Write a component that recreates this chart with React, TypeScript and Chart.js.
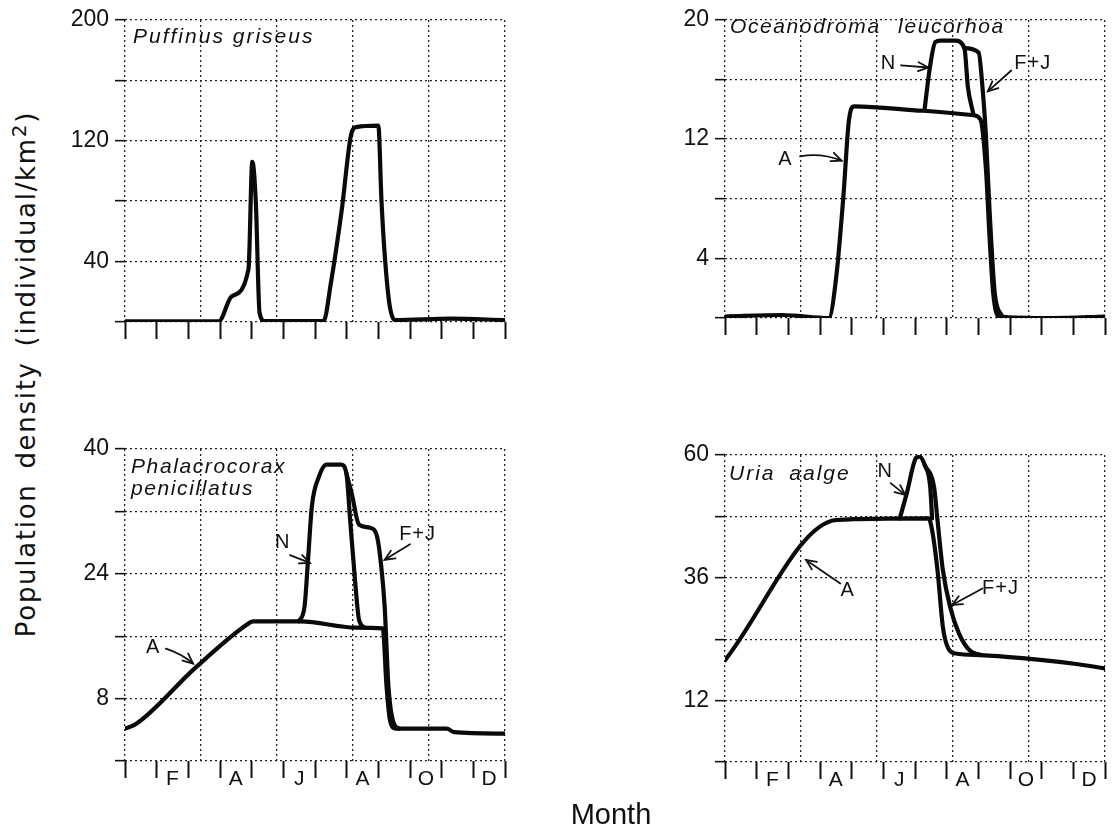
import React, { useEffect, useRef } from 'react';
import { Chart, registerables } from 'chart.js';

Chart.register(...registerables);

// ---------- shared axis data ----------
const monthLabels = ['F', 'A', 'J', 'A', 'O', 'D'];
const monthLabelAt = [1.5, 3.5, 5.5, 7.5, 9.5, 11.5];
const monthBoundaries = [0, 1, 2, 3, 4, 5, 6, 7, 8, 9, 10, 11, 12];
const paperGrid = [0, 2.4, 4.8, 7.2, 9.6, 12];

// ---------- Puffinus griseus ----------
const pgMonths = [0, 2.96, 3.37, 3.9, 4.02, 4.13, 4.25, 4.42, 6.27, 6.5, 6.85, 7.14, 7.31, 8.0, 8.1, 8.2, 8.35, 8.52, 10.3, 12];
const pgDensity = [0.5, 0.5, 17, 35, 106, 80, 6, 0.6, 0.6, 25.6, 75, 124, 129, 130, 80, 45, 12, 1.3, 2.2, 1.3];
const pgTicks = [0, 40, 80, 120, 160, 200];
const pgTickLabels = [40, 120, 200];

// ---------- Oceanodroma leucorhoa ----------
const olAdultMonths = [0, 1.8, 3.28, 3.51, 3.74, 3.91, 4.08, 6.25, 7.84, 8.07, 8.24, 8.35, 8.47, 8.64, 10.35, 12];
const olAdultDensity = [0.1, 0.2, 0, 2.7, 8.2, 13.2, 14.2, 13.9, 13.6, 13.3, 10.0, 5.6, 1.65, 0.1, 0, 0.1];
const olNestMonths = [6.3, 6.47, 6.64, 6.81, 7.27, 7.56, 7.67, 7.84];
const olNestDensity = [13.95, 16.8, 18.5, 18.6, 18.6, 18.1, 15.5, 13.7];
const olFledgeMonths = [7.56, 8.01, 8.13, 8.24, 8.35, 8.52, 8.75];
const olFledgeDensity = [18.1, 17.8, 15.5, 12.2, 7.4, 1.65, 0.1];
const olTicks = [0, 4, 8, 12, 16, 20];
const olTickLabels = [4, 12, 20];

// ---------- Phalacrocorax penicillatus ----------
const ppAdultMonths = [0, 0.37, 2.21, 3.82, 4.05, 5.55, 7.28, 8.14, 8.26, 8.37, 8.55, 10.16, 10.39, 12];
const ppAdultDensity = [4.15, 4.8, 11.9, 17.4, 17.9, 17.9, 17.1, 17.0, 9.5, 5.2, 4.15, 4.15, 3.7, 3.5];
const ppNestMonths = [5.49, 5.67, 5.78, 5.9, 6.13, 6.36, 6.82, 6.99, 7.11, 7.28, 7.39, 7.57];
const ppNestDensity = [17.9, 19.8, 25.8, 32.6, 36.5, 38.0, 38.0, 36.9, 30.9, 22.4, 18.1, 17.1];
const ppFledgeMonths = [6.99, 7.16, 7.39, 7.74, 7.97, 8.08, 8.2, 8.32, 8.49, 8.66];
const ppFledgeDensity = [36.9, 34.3, 30.3, 29.9, 28.6, 25.4, 19.8, 9.5, 4.8, 4.15];
const ppTicks = [0, 8, 16, 24, 32, 40];
const ppTickLabels = [8, 24, 40];

// ---------- Uria aalge ----------
const uaAdultMonths = [0, 3.53, 6.43, 6.54, 6.71, 6.88, 7.05, 7.28, 8.08, 9.55, 11.03, 12];
const uaAdultDensity = [19.9, 47.3, 47.6, 45.3, 37.5, 26.4, 22.2, 21.2, 20.9, 20.2, 19.2, 18.3];
const uaNestMonths = [5.52, 5.74, 6.03, 6.14, 6.31, 6.48, 6.54];
const uaNestDensity = [47.6, 52.5, 59.4, 59.7, 58.0, 53.8, 47.6];
const uaFledgeMonths = [6.31, 6.6, 6.71, 6.88, 7.11, 7.39, 7.73, 8.08];
const uaFledgeDensity = [58.0, 53.8, 47.3, 37.5, 30.3, 25.1, 21.8, 20.9];
const uaTicks = [0, 12, 24, 36, 48, 60];
const uaTickLabels = [12, 36, 60];

// ---------- curve labels (text, label position, arrow tail, arrow head) ----------
const olNoteText = ['N', 'A', 'F+J'];
const olNoteAt = [[5.16, 17.1], [1.91, 10.66], [9.72, 17.1]];
const olArrowFrom = [[5.56, 16.95], [2.37, 10.84], [9.04, 16.6]];
const olArrowTo = [[6.42, 16.8], [3.68, 10.55], [8.3, 15.2]];
const olArrowBend = [0, -6, 0];

const ppNoteText = ['N', 'A', 'F+J'];
const ppNoteAt = [[4.98, 28.0], [0.89, 14.6], [9.24, 29.0]];
const ppArrowFrom = [[5.21, 26.4], [1.29, 14.4], [9.0, 27.8]];
const ppArrowTo = [[5.84, 25.4], [2.15, 12.5], [8.2, 25.8]];
const ppArrowBend = [0, -3, 0];

const uaNoteText = ['N', 'A', 'F+J'];
const uaNoteAt = [[5.06, 56.7], [3.87, 33.6], [8.7, 33.9]];
const uaArrowFrom = [[5.23, 54.5], [3.64, 34.9], [8.13, 33.9]];
const uaArrowTo = [[5.69, 52.2], [2.56, 39.5], [7.17, 30.7]];
const uaArrowBend = [0, 0, 0];

const FONT = '"Liberation Sans", Arial, Helvetica, sans-serif';
const INK = '#111111';

function pairs(xs: number[], ys: number[]) {
  return xs.map((x, i) => ({ x, y: ys[i] }));
}

function makeNotes(text: string[], at: number[][], from: number[][], to: number[][], bend: number[]) {
  return text.map((t, i) => ({ text: t, at: at[i], from: from[i], to: to[i], bend: bend[i] }));
}

type Note = { text: string; at: number[]; from: number[]; to: number[]; bend: number };

function notesPlugin(notes: Note[]) {
  return {
    id: 'curveNotes',
    afterDatasetsDraw(chart: any) {
      const { ctx } = chart;
      const xs = chart.scales.x;
      const ys = chart.scales.y;
      ctx.save();
      ctx.fillStyle = INK;
      ctx.strokeStyle = INK;
      for (const n of notes) {
        ctx.font = `20px ${FONT}`;
        try { (ctx as any).letterSpacing = '1px'; } catch (e) {}
        ctx.textAlign = 'center';
        ctx.textBaseline = 'middle';
        ctx.fillText(n.text, xs.getPixelForValue(n.at[0]), ys.getPixelForValue(n.at[1]));
        const x0 = xs.getPixelForValue(n.from[0]);
        const y0 = ys.getPixelForValue(n.from[1]);
        const x1 = xs.getPixelForValue(n.to[0]);
        const y1 = ys.getPixelForValue(n.to[1]);
        ctx.lineWidth = 1.8;
        ctx.lineCap = 'round';
        ctx.beginPath();
        ctx.moveTo(x0, y0);
        let ang: number;
        if (n.bend) {
          const len = Math.hypot(x1 - x0, y1 - y0) || 1;
          const cx = (x0 + x1) / 2 + (-(y1 - y0) / len) * n.bend;
          const cy = (y0 + y1) / 2 + ((x1 - x0) / len) * n.bend;
          ctx.quadraticCurveTo(cx, cy, x1, y1);
          ang = Math.atan2(y1 - cy, x1 - cx);
        } else {
          ctx.lineTo(x1, y1);
          ang = Math.atan2(y1 - y0, x1 - x0);
        }
        ctx.stroke();
        const h = 11;
        const a = 0.42;
        ctx.beginPath();
        ctx.moveTo(x1 - h * Math.cos(ang - a), y1 - h * Math.sin(ang - a));
        ctx.lineTo(x1, y1);
        ctx.lineTo(x1 - h * Math.cos(ang + a), y1 - h * Math.sin(ang + a));
        ctx.stroke();
      }
      ctx.restore();
    },
  };
}

type PanelCfg = {
  left: number; top: number; width: number; height: number;
  yAxisW: number; padTop: number; padRight: number; xAxisH: number;
  yMax: number; yTicks: number[]; yLabels: number[];
  showMonths: boolean;
  series: { x: number[]; y: number[] }[];
  notes: Note[];
};

const panels: PanelCfg[] = [
  {
    left: 50, top: 0, width: 470, height: 380, yAxisW: 75, padTop: 15, padRight: 15, xAxisH: 58,
    yMax: 200, yTicks: pgTicks, yLabels: pgTickLabels, showMonths: false,
    series: [{ x: pgMonths, y: pgDensity }],
    notes: [],
  },
  {
    left: 650, top: 0, width: 463, height: 380, yAxisW: 75, padTop: 15, padRight: 8, xAxisH: 62,
    yMax: 20, yTicks: olTicks, yLabels: olTickLabels, showMonths: false,
    series: [
      { x: olAdultMonths, y: olAdultDensity },
      { x: olNestMonths, y: olNestDensity },
      { x: olFledgeMonths, y: olFledgeDensity },
    ],
    notes: makeNotes(olNoteText, olNoteAt, olArrowFrom, olArrowTo, olArrowBend),
  },
  {
    left: 50, top: 420, width: 470, height: 410, yAxisW: 75, padTop: 29, padRight: 15, xAxisH: 69,
    yMax: 40, yTicks: ppTicks, yLabels: ppTickLabels, showMonths: true,
    series: [
      { x: ppAdultMonths, y: ppAdultDensity },
      { x: ppNestMonths, y: ppNestDensity },
      { x: ppFledgeMonths, y: ppFledgeDensity },
    ],
    notes: makeNotes(ppNoteText, ppNoteAt, ppArrowFrom, ppArrowTo, ppArrowBend),
  },
  {
    left: 650, top: 420, width: 463, height: 410, yAxisW: 75, padTop: 35, padRight: 8, xAxisH: 68,
    yMax: 60, yTicks: uaTicks, yLabels: uaTickLabels, showMonths: true,
    series: [
      { x: uaAdultMonths, y: uaAdultDensity },
      { x: uaNestMonths, y: uaNestDensity },
      { x: uaFledgeMonths, y: uaFledgeDensity },
    ],
    notes: makeNotes(uaNoteText, uaNoteAt, uaArrowFrom, uaArrowTo, uaArrowBend),
  },
];

const GRID_DASH = [2, 3];

function Panel({ p }: { p: PanelCfg }) {
  const ref = useRef<HTMLCanvasElement | null>(null);
  useEffect(() => {
    if (!ref.current) return;
    const xTickValues = [...monthBoundaries, ...monthLabelAt].sort((a, b) => a - b);
    const chart = new Chart(ref.current, {
      type: 'line',
      data: {
        datasets: p.series.map((s) => ({
          data: pairs(s.x, s.y),
          borderColor: '#0a0a0a',
          borderWidth: 4.2,
          pointRadius: 0,
          fill: false,
          cubicInterpolationMode: 'monotone',
          borderJoinStyle: 'round',
          borderCapStyle: 'round',
        })),
      },
      options: {
        responsive: false,
        animation: false,
        events: [],
        layout: { padding: { top: p.padTop, right: p.padRight, left: 0, bottom: 0 } },
        plugins: { legend: { display: false }, tooltip: { enabled: false }, title: { display: false } },
        scales: {
          x: {
            type: 'linear',
            position: 'bottom',
            min: 0,
            max: 12,
            afterBuildTicks: (s: any) => { s.ticks = xTickValues.map((v) => ({ value: v })); },
            afterFit: (s: any) => { s.height = p.xAxisH; },
            ticks: {
              autoSkip: false,
              maxRotation: 0,
              minRotation: 0,
              padding: -11,
              color: INK,
              font: { size: 21, family: FONT },
              callback: (v: any) => {
                const i = monthLabelAt.indexOf(Number(v));
                return p.showMonths && i >= 0 ? monthLabels[i] : '';
              },
            },
            grid: {
              drawOnChartArea: false,
              tickLength: 17,
              tickWidth: 2,
              tickBorderDash: [],
              tickColor: (ctx: any) => (ctx.tick && Number.isInteger(ctx.tick.value) ? INK : 'rgba(0,0,0,0)'),
            },
            border: { display: false },
          },
          x2: {
            type: 'linear',
            position: 'top',
            min: 0,
            max: 12,
            afterBuildTicks: (s: any) => { s.ticks = paperGrid.map((v) => ({ value: v })); },
            afterFit: (s: any) => { s.height = 0; },
            ticks: { display: false },
            grid: { drawTicks: false, color: '#222', lineWidth: 1.3 },
            border: { display: false, dash: GRID_DASH },
          },
          y: {
            type: 'linear',
            position: 'left',
            min: 0,
            max: p.yMax,
            afterBuildTicks: (s: any) => { s.ticks = p.yTicks.map((v) => ({ value: v })); },
            afterFit: (s: any) => { s.width = p.yAxisW; },
            ticks: {
              padding: 6,
              color: INK,
              font: { size: 23, family: FONT },
              callback: (v: any) => (p.yLabels.includes(Number(v)) ? String(v) : ''),
            },
            grid: {
              color: '#222',
              lineWidth: 1.3,
              tickLength: 10,
              tickWidth: 1.6,
              tickColor: INK,
              tickBorderDash: [],
            },
            border: { display: false, dash: GRID_DASH },
          },
        },
      } as any,
      plugins: [notesPlugin(p.notes)],
    } as any);
    return () => chart.destroy();
  }, [p]);
  return (
    <canvas
      ref={ref}
      width={p.width}
      height={p.height}
      style={{ position: 'absolute', left: p.left, top: p.top, width: p.width, height: p.height }}
    />
  );
}

const nameStyle: React.CSSProperties = {
  position: 'absolute',
  fontFamily: FONT,
  fontStyle: 'italic',
  fontSize: 21,
  lineHeight: 1,
  color: INK,
  whiteSpace: 'nowrap',
  letterSpacing: '2px',
};

export default function App() {
  return (
    <div style={{ position: 'absolute', left: 0, top: 0, width: 1113, height: 830, background: '#fff', overflow: 'hidden' }}>
      {panels.map((p, i) => (
        <Panel key={i} p={p} />
      ))}
      <div style={{ ...nameStyle, left: 133, top: 25 }}>Puffinus griseus</div>
      <div style={{ ...nameStyle, left: 730, top: 15, letterSpacing: '1.6px', wordSpacing: '10px' }}>Oceanodroma leucorhoa</div>
      <div style={{ ...nameStyle, left: 131, top: 455, letterSpacing: '1.6px' }}>Phalacrocorax</div>
      <div style={{ ...nameStyle, left: 131, top: 477, letterSpacing: '1.6px' }}>penicillatus</div>
      <div style={{ ...nameStyle, left: 729, top: 462, wordSpacing: '6px' }}>Uria aalge</div>
      <div
        style={{
          position: 'absolute',
          left: 24,
          top: 374,
          transform: 'translate(-50%, -50%) rotate(-90deg)',
          fontFamily: '"DejaVu Sans", sans-serif',
          fontSize: 26,
          lineHeight: 1,
          letterSpacing: '1.7px',
          wordSpacing: '5px',
          whiteSpace: 'nowrap',
          color: INK,
        }}
      >
        Population density (individual/km<sup style={{ fontSize: 20 }}>2</sup>)
      </div>
      <div
        style={{
          position: 'absolute',
          left: 611,
          top: 800,
          transform: 'translateX(-50%)',
          fontFamily: FONT,
          fontSize: 29,
          lineHeight: 1,
          color: INK,
          whiteSpace: 'nowrap',
        }}
      >
        Month
      </div>
    </div>
  );
}
